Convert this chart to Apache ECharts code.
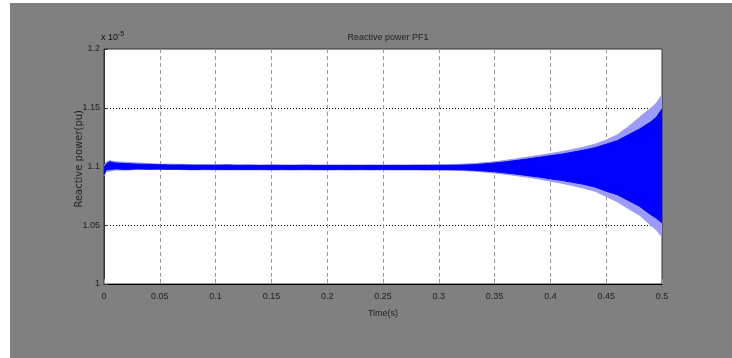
<!DOCTYPE html>
<html>
  <head>
    <meta charset="utf-8" />
    <title>Reactive power PF1</title>
    <script src="https://cdn.jsdelivr.net/npm/echarts@6/dist/echarts.min.js"></script>
    <style type="text/css">
      * {
        margin: 0px;
        padding: 0px;
      }
      body {
        background-color: #fff;
      }
    </style>
  </head>
  <body>
    <div id="main" style="width: 732px; height: 358px"></div>
  </body>
</html>
<script>
  // time samples (s)
  const times = [0, 0.002, 0.005, 0.01, 0.02, 0.03, 0.04, 0.05, 0.06, 0.07, 0.08, 0.09,
    0.1, 0.11, 0.12, 0.13, 0.14, 0.15, 0.16, 0.17, 0.18, 0.19, 0.2, 0.21, 0.22, 0.23,
    0.24, 0.25, 0.26, 0.27, 0.28, 0.29, 0.3, 0.31, 0.32, 0.33, 0.34, 0.35, 0.36, 0.37,
    0.38, 0.39, 0.4, 0.41, 0.42, 0.43, 0.44, 0.45, 0.46, 0.47, 0.48, 0.49, 0.495, 0.5];

  // dense oscillation envelope (x 1e-5 pu)
  const coreUpper = [1.099, 1.102, 1.104, 1.103, 1.1025, 1.102, 1.1018, 1.1015, 1.1012, 1.1013, 1.101, 1.1011,
    1.101, 1.1012, 1.1009, 1.101, 1.1008, 1.101, 1.1009, 1.1008, 1.101, 1.1008, 1.1009, 1.1008, 1.1009, 1.1008,
    1.1009, 1.1008, 1.1009, 1.1008, 1.1009, 1.1009, 1.101, 1.101, 1.1012, 1.1015, 1.1022, 1.103, 1.104, 1.1052,
    1.1065, 1.1078, 1.1092, 1.1105, 1.1122, 1.114, 1.116, 1.119, 1.122, 1.127, 1.132, 1.138, 1.142, 1.149];
  const coreLower = [1.093, 1.097, 1.0975, 1.098, 1.0975, 1.098, 1.0977, 1.0978, 1.0976, 1.0977, 1.0975, 1.0977,
    1.0976, 1.0975, 1.0976, 1.0975, 1.0976, 1.0975, 1.0976, 1.0975, 1.0976, 1.0975, 1.0975, 1.0976, 1.0975, 1.0976,
    1.0975, 1.0976, 1.0975, 1.0975, 1.0975, 1.0974, 1.0974, 1.0974, 1.0972, 1.0968, 1.0962, 1.0955, 1.0945, 1.0935,
    1.0922, 1.091, 1.0895, 1.0882, 1.0865, 1.0848, 1.0825, 1.079, 1.076, 1.071, 1.066, 1.059, 1.056, 1.052];
  // spike tips (lighter fringe)
  const peakUpper = [1.1, 1.104, 1.105, 1.104, 1.1035, 1.103, 1.1025, 1.102, 1.102, 1.1018, 1.1016, 1.1015,
    1.1015, 1.1016, 1.1014, 1.1015, 1.1013, 1.1014, 1.1013, 1.1013, 1.1014, 1.1013, 1.1013, 1.1013, 1.1013, 1.1013,
    1.1013, 1.1013, 1.1013, 1.1013, 1.1014, 1.1014, 1.1015, 1.1016, 1.1019, 1.1024, 1.1031, 1.104, 1.1052, 1.1066,
    1.108, 1.1095, 1.111, 1.1126, 1.1145, 1.1165, 1.119, 1.1225, 1.127, 1.134, 1.142, 1.1495, 1.154, 1.161];
  const peakLower = [1.092, 1.096, 1.096, 1.097, 1.097, 1.0975, 1.0975, 1.0975, 1.098, 1.0973, 1.0971, 1.0972,
    1.0971, 1.0971, 1.0971, 1.0971, 1.0971, 1.097, 1.0971, 1.097, 1.0971, 1.097, 1.097, 1.0971, 1.097, 1.0971,
    1.097, 1.0971, 1.097, 1.097, 1.097, 1.0969, 1.0969, 1.0968, 1.0966, 1.0961, 1.0954, 1.0945, 1.0934, 1.0922,
    1.0908, 1.0893, 1.0875, 1.0858, 1.0838, 1.0815, 1.079, 1.0745, 1.07, 1.064, 1.0585, 1.05, 1.046, 1.04];

  const xTicks = [0, 0.05, 0.1, 0.15, 0.2, 0.25, 0.3, 0.35, 0.4, 0.45, 0.5];
  const yTicks = [1, 1.05, 1.1, 1.15, 1.2];

  const pairs = (arr) => times.map((t, i) => [t, arr[i]]);
  const narrow = "'Liberation Sans Narrow', 'Liberation Sans', sans-serif";

  // origin slightly past the centre so the upper and lower fills overlap (no seam)
  function band(name, arr, color, z, origin) {
    return {
      name: name,
      type: "line",
      data: pairs(arr),
      showSymbol: false,
      silent: true,
      z: z,
      lineStyle: { color: color, width: 1 },
      areaStyle: { color: color, opacity: 1, origin: origin },
    };
  }

  let myChart = echarts.init(document.getElementById("main"));

  let option = {
    backgroundColor: "#fff",
    animation: false,
    graphic: [
      {
        type: "rect",
        z: -10,
        shape: { x: 10, y: 3, width: 722, height: 355 },
        style: { fill: "#808080" },
      },
      {
        type: "text",
        left: 101,
        top: 31,
        style: {
          text: "x 10{s|-5}",
          font: "9px " + narrow,
          fill: "#111",
          rich: { s: { fontSize: 7, verticalAlign: "top", padding: [0, 0, 6, 0], fontFamily: narrow } },
        },
      },
      {
        type: "text",
        left: 74,
        top: 110,
        rotation: Math.PI / 2,
        style: {
          text: "Reactive power(pu)",
          font: "10px 'DejaVu Sans', sans-serif",
          fill: "#222",
        },
      },
    ],
    title: {
      text: "Reactive power PF1",
      left: 383,
      top: 28,
      textAlign: "center",
      textStyle: { fontSize: 9, fontWeight: "normal", color: "#222", fontFamily: narrow },
    },
    grid: {
      left: 104,
      top: 49,
      width: 558,
      height: 235,
      show: true,
      backgroundColor: "#fff",
      borderColor: "#333",
      borderWidth: 1,
    },
    xAxis: {
      type: "value",
      min: xTicks[0],
      max: xTicks[xTicks.length - 1],
      interval: 0.05,
      name: "Time(s)",
      nameLocation: "middle",
      nameGap: 25,
      nameTextStyle: { fontSize: 9, color: "#222", fontFamily: narrow },
      axisLine: { lineStyle: { color: "#000", width: 1 } },
      axisTick: { show: true, inside: true, length: 5, lineStyle: { color: "#999" } },
      axisLabel: {
        fontSize: 9,
        color: "#222",
        fontFamily: narrow,
        margin: 8,
        formatter: (v) => (xTicks.includes(+v.toFixed(2)) ? String(+v.toFixed(2)) : ""),
      },
      splitLine: {
        show: true,
        showMinLine: false,
        showMaxLine: false,
        lineStyle: { color: "#999", type: [4, 3], width: 1 },
      },
    },
    yAxis: {
      type: "value",
      min: yTicks[0],
      max: yTicks[yTicks.length - 1],
      interval: 0.05,
      axisLine: { show: true, lineStyle: { color: "#333", width: 1 } },
      axisTick: { show: true, inside: true, length: 4, lineStyle: { color: "#333" } },
      axisLabel: {
        fontSize: 9,
        color: "#222",
        fontFamily: narrow,
        margin: 4,
        formatter: (v) => String(+v.toFixed(2)),
      },
      splitLine: {
        show: true,
        showMinLine: false,
        showMaxLine: false,
        lineStyle: { color: "#000", type: [1, 2], width: 1 },
      },
    },
    series: [
      band("peakUpper", peakUpper, "#9a9aff", 2, 1.098),
      band("peakLower", peakLower, "#9a9aff", 2, 1.1005),
      band("coreUpper", coreUpper, "#0000ff", 3, 1.098),
      band("coreLower", coreLower, "#0000ff", 3, 1.1005),
    ],
  };

  myChart.setOption(option);
</script>
